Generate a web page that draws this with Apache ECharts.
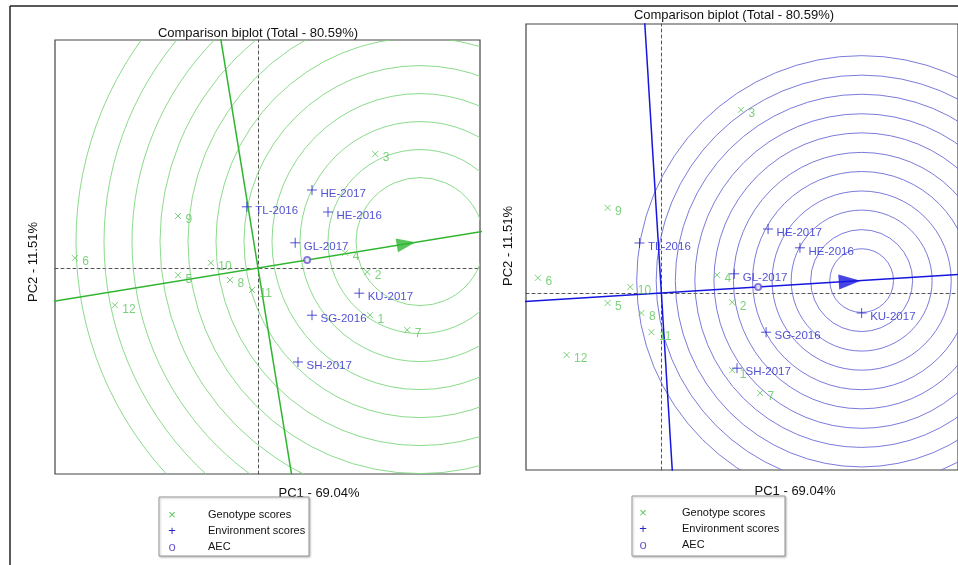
<!DOCTYPE html>
<html>
<head>
<meta charset="utf-8">
<title>Comparison biplot</title>
<script src="https://cdn.jsdelivr.net/npm/echarts@6/dist/echarts.min.js"></script>
<style>
  html, body { margin: 0; padding: 0; background: #fff; }
  #chart { width: 958px; height: 565px; }
</style>
</head>
<body>
<div id="chart"></div>
<script>
// genotype / environment names
const genotypes = ['1', '2', '3', '4', '5', '6', '7', '8', '9', '10', '11', '12']
const environments = ['HE-2017', 'HE-2016', 'TL-2016', 'GL-2017', 'KU-2017', 'SG-2016', 'SH-2017']

// left biplot (genotype focused)
const genoPC1Left = [2.80, 2.73, 2.93, 2.18, -2.00, -4.58, 3.73, -0.70, -2.00, -1.18, -0.15, -3.58]
const genoPC2Left = [-1.18, -0.10, 2.85, 0.38, -0.18, 0.25, -1.55, -0.30, 1.30, 0.13, -0.55, -0.93]
const envPC1Left = [1.35, 1.75, -0.28, 0.93, 2.53, 1.35, 1.00]
const envPC2Left = [1.95, 1.40, 1.53, 0.63, -0.63, -1.18, -2.35]
const aecLeft = [1.23, 0.20]
const idealLeft = [4.05, 0.66]
const ringsLeft = [1.6, 2.3, 3.0, 3.7, 4.4, 5.1, 5.8, 6.5, 7.2, 7.9, 8.6]

// right biplot (environment focused)
const genoPC1Right = [1.78, 1.78, 2.00, 1.40, -1.35, -3.10, 2.48, -0.50, -1.35, -0.78, -0.25, -2.38]
const genoPC2Right = [-1.93, -0.23, 4.58, 0.45, -0.25, 0.38, -2.50, -0.50, 2.13, 0.15, -0.98, -1.55]
const envPC1Right = [2.68, 3.48, -0.55, 1.83, 5.03, 2.63, 1.90]
const envPC2Right = [1.60, 1.13, 1.25, 0.48, -0.50, -0.98, -1.88]
const aecRight = [2.43, 0.15]
const idealRight = [5.03, 0.31]
const ringsRight = [0.8, 1.28, 1.77, 2.25, 2.74, 3.22, 3.71, 4.19, 4.68, 5.16, 5.65]

const titleText = 'Comparison biplot (Total - 80.59%)'
const xName = 'PC1 - 69.04%'
const yName = 'PC2 - 11.51%'

const GREEN = '#5cc55c'
const BLUE = '#2626c8'
const CROSS = 'path://M0,0L10,10M10,0L0,10'
const PLUS = 'path://M5,0L5,10M0,5L10,5'

function panelSeries (idx, g1, g2, e1, e2, aec, ideal, rings, ringColor, lineColor, arrowBack, arrowSize) {
  const ang = Math.atan2(aec[1], aec[0])
  const len = Math.sqrt(aec[0] * aec[0] + aec[1] * aec[1])
  const ux = aec[0] / len
  const uy = aec[1] / len
  return [
    {
      type: 'custom',
      xAxisIndex: idx,
      yAxisIndex: idx,
      clip: true,
      silent: true,
      z: 1,
      encode: { x: 0, y: 1 },
      data: rings.map(r => [ideal[0], ideal[1], r]),
      renderItem: function (params, api) {
        const c = api.coord([api.value(0), api.value(1)])
        const r = api.size([api.value(2), 0])[0]
        const cs = params.coordSys
        return {
          type: 'circle',
          shape: { cx: c[0], cy: c[1], r: r },
          style: { fill: 'none', stroke: ringColor, lineWidth: 0.9 },
          clipPath: { type: 'rect', shape: { x: cs.x, y: cs.y, width: cs.width, height: cs.height } }
        }
      }
    },
    {
      // AEC abscissa
      type: 'line',
      xAxisIndex: idx,
      yAxisIndex: idx,
      showSymbol: false,
      silent: true,
      z: 3,
      lineStyle: { color: lineColor, width: 1.5 },
      data: [[-20 * ux, -20 * uy], [20 * ux, 20 * uy]]
    },
    {
      // AEC ordinate
      type: 'line',
      xAxisIndex: idx,
      yAxisIndex: idx,
      showSymbol: false,
      silent: true,
      z: 3,
      lineStyle: { color: lineColor, width: 1.5 },
      data: [[20 * uy, -20 * ux], [-20 * uy, 20 * ux]]
    },
    {
      type: 'scatter',
      xAxisIndex: idx,
      yAxisIndex: idx,
      silent: true,
      z: 4,
      symbol: 'triangle',
      symbolSize: arrowSize,
      symbolRotate: -90 + ang * 180 / Math.PI,
      itemStyle: { color: lineColor },
      data: [[ideal[0] - arrowBack * ux, ideal[1] - arrowBack * uy]]
    },
    {
      name: 'Genotype scores',
      type: 'scatter',
      xAxisIndex: idx,
      yAxisIndex: idx,
      z: 5,
      symbol: CROSS,
      symbolSize: 6,
      itemStyle: { color: 'none', borderColor: GREEN, borderWidth: 1 },
      label: {
        show: true,
        position: 'right',
        distance: 2,
        offset: [0, 4],
        color: GREEN,
        fontSize: 12,
        fontFamily: 'Liberation Sans',
        formatter: p => p.name
      },
      data: genotypes.map((n, i) => ({ name: n, value: [g1[i], g2[i]] }))
    },
    {
      name: 'Environment scores',
      type: 'scatter',
      xAxisIndex: idx,
      yAxisIndex: idx,
      z: 5,
      symbol: PLUS,
      symbolSize: 10,
      itemStyle: { color: 'none', borderColor: BLUE, borderWidth: 1 },
      label: {
        show: true,
        position: 'right',
        distance: 1,
        offset: [0, 4],
        color: BLUE,
        fontSize: 11.5,
        fontFamily: 'Liberation Sans',
        formatter: p => p.name
      },
      data: environments.map((n, i) => ({ name: n, value: [e1[i], e2[i]] }))
    },
    {
      name: 'AEC',
      type: 'scatter',
      xAxisIndex: idx,
      yAxisIndex: idx,
      z: 5,
      symbol: 'emptyCircle',
      symbolSize: 6,
      itemStyle: { color: '#6a5acd', borderColor: '#6a5acd', borderWidth: 1 },
      data: [aec]
    }
  ]
}

function axis (idx, min, max) {
  return {
    type: 'value',
    gridIndex: idx,
    min: min,
    max: max,
    axisLine: { onZero: true, lineStyle: { color: '#555', width: 1, type: [3, 3] } },
    axisTick: { show: false },
    axisLabel: { show: false },
    splitLine: { show: false }
  }
}

function legendBox (x, y, w, h, symX, textX, rowY) {
  const rows = [['×', GREEN, 'Genotype scores'], ['+', BLUE, 'Environment scores'], ['o', '#6a5acd', 'AEC']]
  const els = [{
    type: 'rect',
    shape: { x: x, y: y, width: w, height: h },
    style: { fill: '#fff', stroke: '#999', lineWidth: 1, shadowColor: 'rgba(0,0,0,0.25)', shadowBlur: 2, shadowOffsetX: 1, shadowOffsetY: 1 }
  }]
  rows.forEach((r, i) => {
    els.push({
      type: 'text',
      style: { x: symX, y: rowY[i], text: r[0], fill: r[1], font: '13px Liberation Sans', textAlign: 'center', textVerticalAlign: 'middle' }
    })
    els.push({
      type: 'text',
      style: { x: textX, y: rowY[i], text: r[2], fill: '#111', font: '11px Liberation Sans', textAlign: 'left', textVerticalAlign: 'middle' }
    })
  })
  return els
}

const textFont = '13px Liberation Sans'
const myChart = echarts.init(document.getElementById('chart'))

const option = {
  backgroundColor: '#fff',
  animation: false,
  grid: [
    { left: 55, top: 40, width: 425, height: 434, show: true, borderColor: '#444', borderWidth: 1.2, backgroundColor: 'transparent' },
    { left: 526, top: 24, width: 434, height: 446, show: true, borderColor: '#444', borderWidth: 1.2, backgroundColor: 'transparent' }
  ],
  xAxis: [axis(0, -5.075, 5.55), axis(1, -3.4, 7.45)],
  yAxis: [axis(0, -5.15, 5.7), axis(1, -4.425, 6.725)],
  series: [].concat(
    panelSeries(0, genoPC1Left, genoPC2Left, envPC1Left, envPC2Left, aecLeft, idealLeft, ringsLeft, '#7fd67f', '#2fb52f', 0.35, [14, 19]),
    panelSeries(1, genoPC1Right, genoPC2Right, envPC1Right, envPC2Right, aecRight, idealRight, ringsRight, '#6b6bd6', '#1616e0', 0.3, [15, 22])
  ),
  graphic: [
    // outer frame
    { type: 'line', shape: { x1: 10, y1: 6, x2: 958, y2: 6 }, style: { stroke: '#222', lineWidth: 1.5 } },
    { type: 'line', shape: { x1: 10, y1: 6, x2: 10, y2: 565 }, style: { stroke: '#222', lineWidth: 1.5 } },
    // titles and axis names
    { type: 'text', style: { x: 258, y: 33, text: titleText, fill: '#111', font: textFont, textAlign: 'center', textVerticalAlign: 'middle' } },
    { type: 'text', style: { x: 734, y: 15, text: titleText, fill: '#111', font: textFont, textAlign: 'center', textVerticalAlign: 'middle' } },
    { type: 'text', style: { x: 319, y: 493, text: xName, fill: '#111', font: textFont, textAlign: 'center', textVerticalAlign: 'middle' } },
    { type: 'text', style: { x: 795, y: 491, text: xName, fill: '#111', font: textFont, textAlign: 'center', textVerticalAlign: 'middle' } },
    { type: 'text', x: 33, y: 262, rotation: Math.PI / 2, style: { x: 0, y: 0, text: yName, fill: '#111', font: textFont, textAlign: 'center', textVerticalAlign: 'middle' } },
    { type: 'text', x: 508, y: 246, rotation: Math.PI / 2, style: { x: 0, y: 0, text: yName, fill: '#111', font: textFont, textAlign: 'center', textVerticalAlign: 'middle' } }
  ].concat(
    legendBox(159, 497, 150, 59, 172, 208, [515, 531, 547]),
    legendBox(632, 496, 153, 60, 643, 682, [513, 529, 545])
  )
}

myChart.setOption(option)
</script>
</body>
</html>
